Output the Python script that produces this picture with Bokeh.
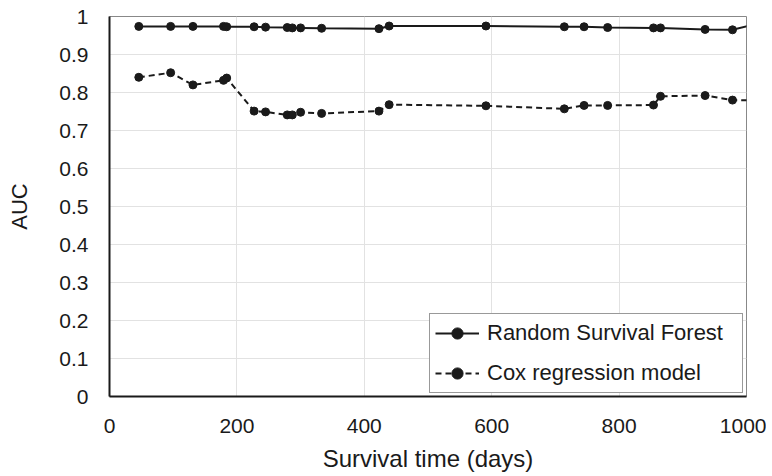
from bokeh.plotting import figure
from bokeh.models import FixedTicker, Legend, LegendItem, Range1d
from bokeh.embed import file_html
from bokeh.resources import INLINE

# Data
days = [46, 96, 131, 179, 184, 227, 245, 279, 287, 300, 333, 423, 439,
        591, 714, 745, 782, 854, 865, 935, 978, 1010]
rsf_auc = [0.974, 0.974, 0.974, 0.974, 0.973, 0.973, 0.972, 0.971, 0.970, 0.970,
           0.969, 0.968, 0.975, 0.975, 0.973, 0.973, 0.971, 0.970, 0.970, 0.966,
           0.965, 0.978]
cox_auc = [0.840, 0.852, 0.820, 0.832, 0.838, 0.751, 0.749, 0.741, 0.741, 0.748,
           0.745, 0.751, 0.768, 0.765, 0.757, 0.766, 0.766, 0.767, 0.790, 0.792,
           0.780, 0.779]
x_ticks = [0, 200, 400, 600, 800, 1000]
y_ticks = [0, 0.1, 0.2, 0.3, 0.4, 0.5, 0.6, 0.7, 0.8, 0.9, 1.0]
y_tick_labels = ["0", "0.1", "0.2", "0.3", "0.4", "0.5", "0.6", "0.7", "0.8", "0.9", "1"]
series_names = ["Random Survival Forest", "Cox regression model"]

FONT = "Liberation Sans"
INK = "#1a1a1a"

p = figure(width=766, height=474, output_backend="svg", toolbar_location=None,
           x_range=Range1d(0, 1000), y_range=Range1d(0, 1),
           min_border_left=109, min_border_right=20, min_border_top=16,
           min_border_bottom=74)

p.outline_line_color = "#888888"
p.outline_line_width = 1

for ax in (p.xaxis[0], p.yaxis[0]):
    ax.axis_line_color = INK
    ax.axis_line_width = 2
    ax.major_tick_line_color = None
    ax.minor_tick_line_color = None
    ax.major_label_text_font = FONT
    ax.major_label_text_font_size = "21px"
    ax.major_label_text_color = INK
    ax.axis_label_text_font = FONT
    ax.axis_label_text_font_style = "normal"
    ax.axis_label_text_color = INK

p.xaxis.ticker = FixedTicker(ticks=x_ticks)
p.yaxis.ticker = FixedTicker(ticks=y_ticks)
p.yaxis.major_label_overrides = {t: l for t, l in zip(y_ticks, y_tick_labels)}
p.xaxis.axis_label = "Survival time (days)"
p.yaxis.axis_label = "AUC"
p.xaxis.axis_label_text_font_size = "24px"
p.yaxis.axis_label_text_font_size = "22px"
p.xaxis.major_label_standoff = 16
p.xaxis.axis_label_standoff = 9
p.yaxis.major_label_standoff = 15
p.yaxis.axis_label_standoff = 24

p.xgrid.ticker = FixedTicker(ticks=x_ticks)
p.ygrid.ticker = FixedTicker(ticks=y_ticks)
p.grid.grid_line_color = "#e2e2e2"
p.grid.grid_line_width = 1

l1 = p.line(days, rsf_auc, line_color=INK, line_width=2)
s1 = p.scatter(days, rsf_auc, size=8, fill_color=INK, line_color=INK)
l2 = p.line(days, cox_auc, line_color=INK, line_width=2, line_dash="6 4")
s2 = p.scatter(days, cox_auc, size=8, fill_color=INK, line_color=INK)

legend = Legend(items=[LegendItem(label=series_names[0], renderers=[l1, s1]),
                       LegendItem(label=series_names[1], renderers=[l2, s2])],
                location="bottom_right", margin=3, padding=5, spacing=12,
                glyph_width=44, glyph_height=28, label_height=28, label_width=250,
                label_standoff=8,
                label_text_font=FONT, label_text_font_size="22px",
                label_text_color=INK, border_line_color="#333333",
                border_line_width=1, background_fill_alpha=1.0)
p.add_layout(legend, "center")

open("out.html", "w").write(file_html(p, INLINE))
